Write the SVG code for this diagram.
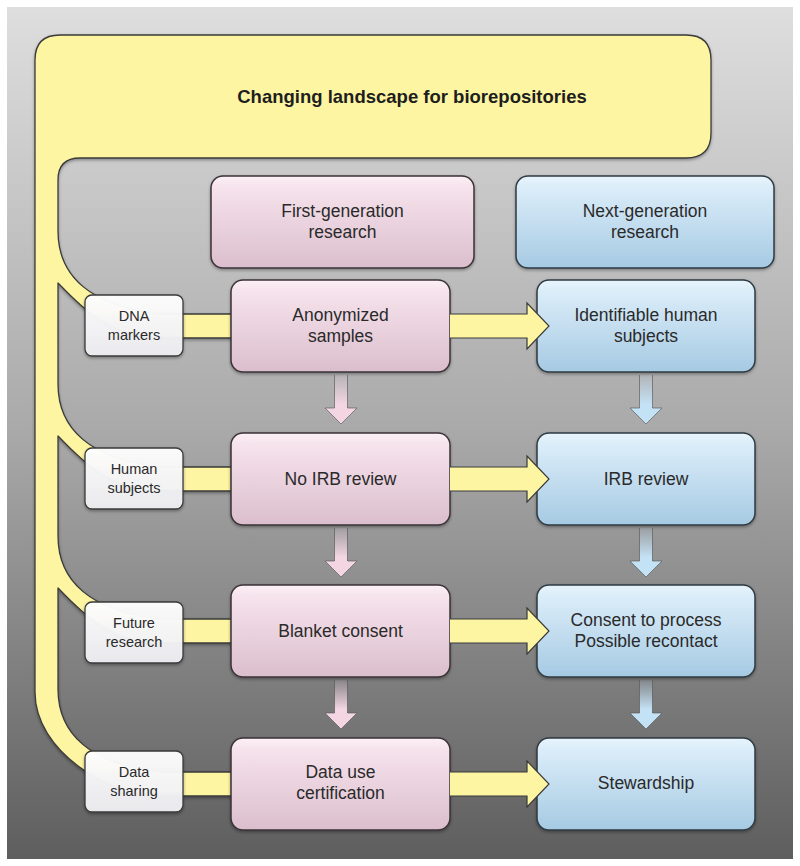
<svg xmlns="http://www.w3.org/2000/svg" width="800" height="866" viewBox="0 0 800 866">
<defs>
<linearGradient id="gBg" x1="0" y1="0" x2="0" y2="1">
<stop offset="0" stop-color="#dedede"/>
<stop offset="0.5" stop-color="#a9a9aa"/>
<stop offset="1" stop-color="#5e5e5f"/>
</linearGradient>
<linearGradient id="gPink" x1="0" y1="0" x2="0" y2="1">
<stop offset="0" stop-color="#fcf0f6"/>
<stop offset="0.12" stop-color="#f6e3ec"/>
<stop offset="1" stop-color="#dbbecd"/>
</linearGradient>
<linearGradient id="gBlue" x1="0" y1="0" x2="0" y2="1">
<stop offset="0" stop-color="#e8f4fc"/>
<stop offset="0.12" stop-color="#dbedf9"/>
<stop offset="1" stop-color="#a6cae3"/>
</linearGradient>
<linearGradient id="gLab" x1="0" y1="0" x2="0" y2="1">
<stop offset="0" stop-color="#ffffff" stop-opacity="0.96"/>
<stop offset="1" stop-color="#ececf0" stop-opacity="0.97"/>
</linearGradient>
<linearGradient id="gDP" x1="0" y1="0" x2="0" y2="1">
<stop offset="0" stop-color="#f4d6e3" stop-opacity="0.1"/>
<stop offset="0.6" stop-color="#f4d6e3"/>
<stop offset="1" stop-color="#f4d6e3"/>
</linearGradient>
<linearGradient id="gDB" x1="0" y1="0" x2="0" y2="1">
<stop offset="0" stop-color="#c4e2f5" stop-opacity="0.1"/>
<stop offset="0.6" stop-color="#c4e2f5"/>
<stop offset="1" stop-color="#c4e2f5"/>
</linearGradient>
<filter id="sh" x="-10%" y="-10%" width="120%" height="130%">
<feDropShadow dx="0" dy="1.5" stdDeviation="1.5" flood-color="#000" flood-opacity="0.35"/>
</filter>
<style>
.pk{fill:url(#gPink);stroke:#3a3236;stroke-width:1.5;filter:url(#sh)}
.bl{fill:url(#gBlue);stroke:#2f3a42;stroke-width:1.5;filter:url(#sh)}
.lb{fill:url(#gLab);stroke:#3a3a3a;stroke-width:1.3;filter:url(#sh)}
.yl{fill:#fdf5a2;stroke:#3a3a3a;stroke-width:1.3;stroke-linejoin:round}
.ya{fill:#fdf5a2;stroke:#3a3a3a;stroke-width:1.2;stroke-linejoin:miter}
.dp{fill:url(#gDP);stroke:#555;stroke-opacity:0.7;stroke-width:0.9}
.db{fill:url(#gDB);stroke:#555;stroke-opacity:0.7;stroke-width:0.9}
text{font-family:"Liberation Sans",Arial,sans-serif;fill:#2a2a2a;text-anchor:middle}
.t{font-size:17.5px}
.s{font-size:14.5px}
.h{font-size:18.5px;font-weight:bold;fill:#1e1e1e}
</style>
</defs>
<rect width="800" height="866" fill="#ffffff"/>
<rect x="7" y="7" width="786" height="852" fill="url(#gBg)"/>

<g id="landscape">
<path class="yl" filter="url(#sh)" d="M35,60 Q35,35 60,35 H686 Q711,35 711,60 V133 Q711,158 686,158 H80 Q58,158 58,180 V231 C58,276 90,306 160,314 H240 V338 H160 C110,338 80,306 58,283 V384 C58,429 90,459 160,467 H240 V491 H160 C110,491 80,459 58,436 V536 C58,581 90,611 160,619 H240 V643 H160 C110,643 80,611 58,588 V689 C58,734 90,764 160,772 H240 V796 H160 C110,796 35,752 35,692 Z"/>
<text class="h" x="412" y="103">Changing landscape for biorepositories</text>
</g>

<g id="label-dna"><rect class="lb" x="85" y="295" width="98" height="61" rx="7"/><text class="s" x="134" y="321">DNA</text><text class="s" x="134" y="340">markers</text></g>
<g id="label-human"><rect class="lb" x="85" y="448" width="98" height="61" rx="7"/><text class="s" x="134" y="474">Human</text><text class="s" x="134" y="493">subjects</text></g>
<g id="label-future"><rect class="lb" x="85" y="602" width="98" height="61" rx="7"/><text class="s" x="134" y="628">Future</text><text class="s" x="134" y="647">research</text></g>
<g id="label-data"><rect class="lb" x="85" y="751" width="98" height="61" rx="7"/><text class="s" x="134" y="777">Data</text><text class="s" x="134" y="796">sharing</text></g>

<g id="head-first"><rect class="pk" x="211" y="176" width="263" height="92" rx="12"/><text class="t" x="342.5" y="217">First-generation</text><text class="t" x="342.5" y="238">research</text></g>
<g id="head-next"><rect class="bl" x="516" y="176" width="258" height="92" rx="12"/><text class="t" x="645" y="217">Next-generation</text><text class="t" x="645" y="238">research</text></g>

<g id="first-anonymized"><rect class="pk" x="231" y="280" width="219" height="92" rx="12"/><text class="t" x="340.5" y="321">Anonymized</text><text class="t" x="340.5" y="342">samples</text></g>
<g id="first-noirb"><rect class="pk" x="231" y="433" width="219" height="92" rx="12"/><text class="t" x="340.5" y="485">No IRB review</text></g>
<g id="first-blanket"><rect class="pk" x="231" y="585" width="219" height="92" rx="12"/><text class="t" x="340.5" y="637">Blanket consent</text></g>
<g id="first-datause"><rect class="pk" x="231" y="738" width="219" height="92" rx="12"/><text class="t" x="340.5" y="778">Data use</text><text class="t" x="340.5" y="799">certification</text></g>

<g id="next-identifiable"><rect class="bl" x="537" y="280" width="218" height="92" rx="12"/><text class="t" x="646" y="321">Identifiable human</text><text class="t" x="646" y="342">subjects</text></g>
<g id="next-irb"><rect class="bl" x="537" y="433" width="218" height="92" rx="12"/><text class="t" x="646" y="485">IRB review</text></g>
<g id="next-consent"><rect class="bl" x="537" y="585" width="218" height="92" rx="12"/><text class="t" x="646" y="626">Consent to process</text><text class="t" x="646" y="647">Possible recontact</text></g>
<g id="next-stewardship"><rect class="bl" x="537" y="738" width="218" height="92" rx="12"/><text class="t" x="646" y="789">Stewardship</text></g>

<g id="connectors">
<path class="ya" d="M450,314 H527 V303 L549,326 L527,349 V338 H450"/>
<path class="ya" d="M450,467 H527 V456 L549,479 L527,502 V491 H450"/>
<path class="ya" d="M450,619 H527 V608 L549,631 L527,654 V643 H450"/>
<path class="ya" d="M450,772 H527 V761 L549,784 L527,807 V796 H450"/>
<path class="dp" d="M334.5,375 V408 H325 L341,424 L357,408 H347.5 V375"/>
<path class="dp" d="M334.5,528 V561 H325 L341,577 L357,561 H347.5 V528"/>
<path class="dp" d="M334.5,680 V713 H325 L341,729 L357,713 H347.5 V680"/>
<path class="db" d="M639.5,375 V408 H630 L646,424 L662,408 H652.5 V375"/>
<path class="db" d="M639.5,528 V561 H630 L646,577 L662,561 H652.5 V528"/>
<path class="db" d="M639.5,680 V713 H630 L646,729 L662,713 H652.5 V680"/>
</g>
</svg>
